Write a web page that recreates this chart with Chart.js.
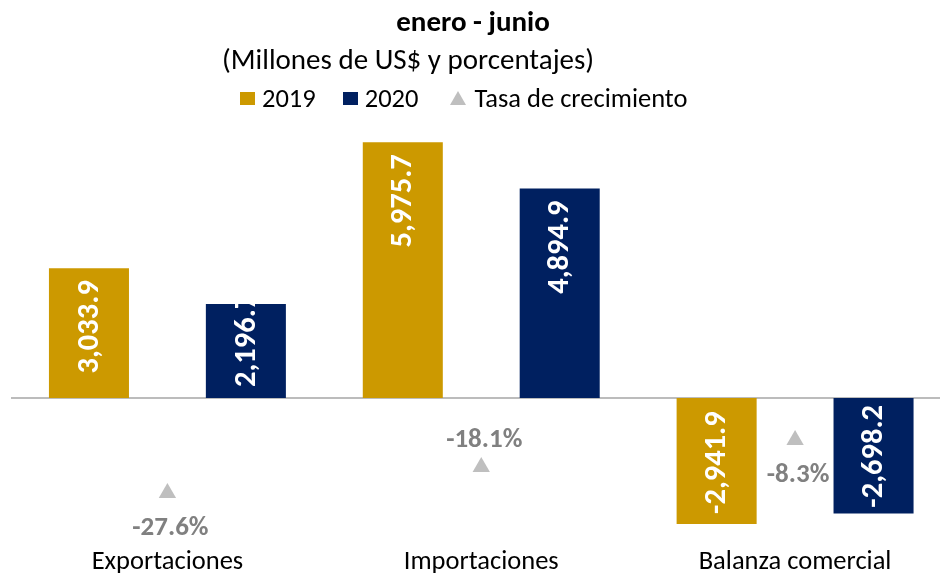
<!DOCTYPE html>
<html>
<head>
<meta charset="utf-8">
<script src="https://cdn.jsdelivr.net/npm/chart.js@4"></script>
<style>
  html, body { margin: 0; padding: 0; width: 940px; height: 577px; overflow: hidden; background: #fff; }
  #wrap { position: absolute; left: 0; top: 0; width: 962px; height: 577px; }
  .txt { position: absolute; white-space: nowrap; font-family: Carlito, Lato, "DejaVu Sans", sans-serif; color: #000; line-height: 1; }
  #title { top: 7px; left: 0; width: 946px; text-align: center; font-weight: bold; font-size: 29px; }
  #subtitle { top: 45px; left: 222px; font-size: 29px; }
  #legend { top: 85px; left: 240px; font-size: 26.5px; display: flex; align-items: center; }
  .sw { display: inline-block; width: 15px; height: 13px; margin-right: 7px; }
  .tri { display: inline-block; width: 0; height: 0; border-left: 8px solid transparent; border-right: 8px solid transparent; border-bottom: 14px solid #BFBFBF; margin-right: 8px; }
  .item { display: flex; align-items: center; margin-right: 27px; }
  .item.i2 { margin-right: 32px; }
</style>
</head>
<body>
<div id="wrap"><canvas id="c"></canvas></div>
<div class="txt" id="title">enero - junio</div>
<div class="txt" id="subtitle">(Millones de US$ y porcentajes)</div>
<div class="txt" id="legend"></div>
<script>
const categories = ["Exportaciones", "Importaciones", "Balanza comercial"];
const values2019 = [3033.9, 5975.7, -2941.9];
const values2020 = [2196.7, 4894.9, -2698.2];
const growthRate = [-27.6, -18.1, -8.3];
const seriesNames = ["2019", "2020", "Tasa de crecimiento"];
const pctLabelSide = ["below", "above", "below"];

const GOLD = "#CC9900", NAVY = "#002060", GREY = "#BFBFBF";
const FONT = "Carlito, Lato, 'DejaVu Sans', sans-serif";

// HTML legend
const leg = document.getElementById("legend");
[[GOLD, seriesNames[0]], [NAVY, seriesNames[1]], [null, seriesNames[2]]].forEach(([col, name], k) => {
  const it = document.createElement("span");
  it.className = "item" + (k === 1 ? " i2" : "");
  const m = document.createElement("span");
  if (col) { m.className = "sw"; m.style.background = col; } else { m.className = "tri"; }
  it.appendChild(m);
  it.appendChild(document.createTextNode(name));
  leg.appendChild(it);
});

const labelPlugin = {
  id: "labels",
  beforeDatasetsDraw(chart) {
    const ctx = chart.ctx;
    const y = chart.scales.y;
    const zy = y.getPixelForValue(0);
    ctx.save();
    ctx.strokeStyle = "#A6A6A6";
    ctx.lineWidth = 1.5;
    ctx.beginPath();
    ctx.moveTo(11, zy);
    ctx.lineTo(chart.width, zy);
    ctx.stroke();
    ctx.restore();
  },
  afterDatasetsDraw(chart) {
    const ctx = chart.ctx;
    ctx.save();
    // bar values (clipped to their bar, as in the original)
    [0, 1].forEach(di => {
      const meta = chart.getDatasetMeta(di);
      const data = chart.data.datasets[di].data;
      meta.data.forEach((el, i) => {
        const v = data[i];
        const txt = v.toLocaleString("en-US", { minimumFractionDigits: 1, maximumFractionDigits: 1 });
        ctx.font = "bold 30.5px " + FONT;
        const len = ctx.measureText(txt).width;
        let cy;
        if (v >= 0) {
          const t = Math.min(el.y + 12, el.base - 11 - len);
          cy = t + len / 2;
        } else {
          const b = Math.max(el.y - 10, el.base + 7 + len);
          cy = b - len / 2;
        }
        ctx.save();
        ctx.beginPath();
        ctx.rect(el.x - el.width / 2, Math.min(el.y, el.base), el.width, Math.abs(el.base - el.y));
        ctx.clip();
        ctx.translate(el.x, cy);
        ctx.rotate(-Math.PI / 2);
        ctx.fillStyle = "#FFFFFF";
        ctx.textAlign = "center";
        ctx.textBaseline = "middle";
        ctx.fillText(txt, 0, 1);
        ctx.restore();
      });
    });
    // growth labels
    const lm = chart.getDatasetMeta(2);
    lm.data.forEach((p, i) => {
      const v = growthRate[i];
      ctx.font = "bold 27px " + FONT;
      ctx.fillStyle = "#808080";
      ctx.textAlign = "center";
      ctx.textBaseline = "middle";
      const dy = pctLabelSide[i] === "below" ? 35 : -27;
      ctx.fillText(v.toFixed(1) + "%", p.x + 3, p.y + dy);
    });
    // category labels
    const xs = chart.scales.x;
    ctx.font = "26.5px " + FONT;
    ctx.fillStyle = "#000";
    ctx.textAlign = "center";
    ctx.textBaseline = "middle";
    categories.forEach((c, i) => {
      ctx.fillText(c, xs.getPixelForValue(i), 562);
    });
    ctx.restore();
  }
};

new Chart(document.getElementById("c"), {
  data: {
    labels: categories,
    datasets: [
      { type: "bar", label: seriesNames[0], data: values2019, backgroundColor: GOLD, yAxisID: "y",
        categoryPercentage: 1.0, barPercentage: 0.51, order: 2 },
      { type: "bar", label: seriesNames[1], data: values2020, backgroundColor: NAVY, yAxisID: "y",
        categoryPercentage: 1.0, barPercentage: 0.51, order: 2 },
      { type: "line", label: seriesNames[2], data: growthRate, yAxisID: "y1", showLine: false,
        pointStyle: "triangle", pointRadius: 10, pointHoverRadius: 10, backgroundColor: GREY,
        borderColor: GREY, borderWidth: 0, order: 1 }
    ]
  },
  options: {
    responsive: true,
    maintainAspectRatio: false,
    animation: false,
    events: [],
    layout: { padding: { left: 10.5, right: 10, top: 141.2, bottom: 29.2 } },
    plugins: { legend: { display: false }, title: { display: false }, tooltip: { enabled: false } },
    scales: {
      x: { display: false },
      y: { display: false, min: -3500, max: 6000 },
      y1: { display: false, position: "right", min: -47.56, max: 100.5 }
    }
  },
  plugins: [labelPlugin]
});
</script>
</body>
</html>
